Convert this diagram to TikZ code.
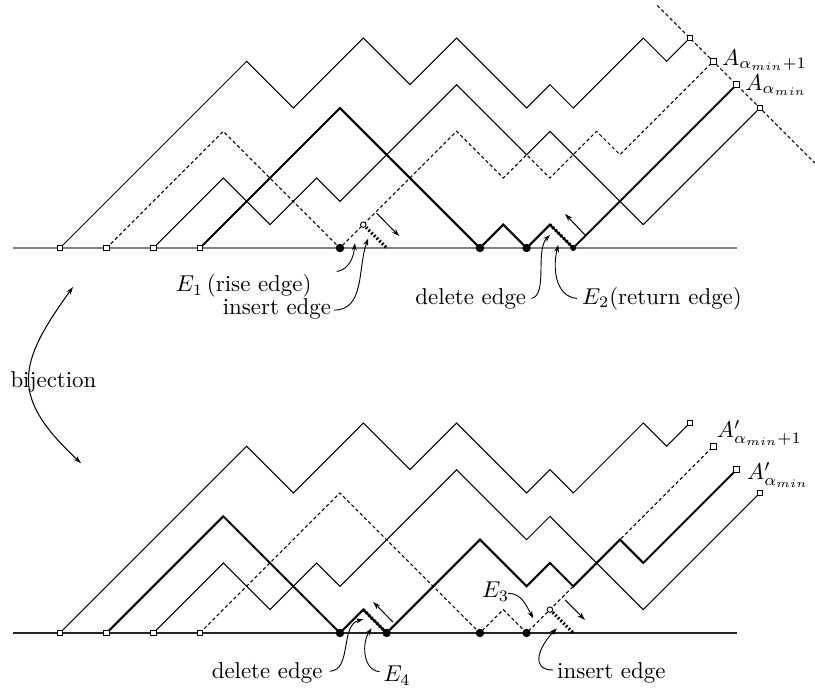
\documentclass[tikz,border=0pt]{standalone}
\usetikzlibrary{arrows.meta}
\begin{document}
\begin{tikzpicture}[x=0.358cm,y=0.358cm,
  thinpath/.style={line width=0.45pt, line join=miter},
  thickpath/.style={line width=0.9pt, line join=miter},
  dashpath/.style={line width=0.45pt, dash pattern=on 1.5pt off 1.1pt},
  beads/.style={line width=1.4pt, dash pattern=on 0.8pt off 0.85pt},
  topbase/.style={line width=0.9pt, black!50},
  botbase/.style={line width=0.7pt, black!85},
  sq/.style={draw, rectangle, fill=white, inner sep=0pt, minimum size=2.4pt, line width=0.4pt},
  bigdot/.style={circle, fill=black, inner sep=0pt, minimum size=3.7pt},
  smalldot/.style={circle, fill=black, inner sep=0pt, minimum size=2.6pt},
  opendot/.style={circle, draw, fill=white, inner sep=0pt, minimum size=2.4pt, line width=0.4pt},
  lead/.style={line width=0.4pt, -{Stealth[length=3.2pt,width=2.2pt]}},
  dirarrow/.style={line width=0.45pt, -{Stealth[length=3.4pt,width=2.2pt]}},
  lbl/.style={inner sep=0pt}
]
\useasboundingbox (-2.571,-18.902) rectangle (32.361,10.630);

% ================= TOP =================
\coordinate (tbl) at (-2,0); \coordinate (tbr) at (29,0);
\draw[topbase] (tbl) -- (tbr);
\coordinate (dgA) at (25.6,10.4); \coordinate (dgB) at (32.36,3.64);
\draw[dashpath] (dgA) -- (dgB);

\draw[thinpath] (0,0)--(8,8)--(10,6)--(13,9)--(15,7)--(17,9)--(20,6)--(21,7)--(22,6)--(25,9)--(26,8)--(27,9);
\draw[dashpath] (2,0)--(7,5)--(12,0)--(13,1)--(17,5)--(19,3)--(20,4)--(21,3)--(23,5)--(24,4)--(28,8);
\draw[thinpath] (4,0)--(7,3)--(9,1)--(11,3)--(12,2)--(17,7)--(20,4)--(21,5)--(25,1)--(30,6);
\draw[thickpath] (6,0)--(12,6)--(18,0)--(19,1)--(20,0)--(21,1)--(22,0)--(29,7);

\draw[beads] (21,1) -- (22,0);
\draw[beads] (13,1) -- (14,0);

\coordinate (ta1) at (13.57,1.49); \coordinate (ta2) at (14.54,0.51);
\draw[dirarrow] (ta1) -- (ta2);
\coordinate (tb1) at (22.5,0.56); \coordinate (tb2) at (21.65,1.46);
\draw[dirarrow] (tb1) -- (tb2);

\node[bigdot] (td1) at (12,0) {};
\node[bigdot] (td2) at (18,0) {};
\node[bigdot] (td3) at (20,0) {};
\node[smalldot] (td4) at (22,0) {};
\node[opendot] (tc1) at (13,1) {};

\node[sq] (ts1) at (0,0) {};
\node[sq] (ts2) at (2,0) {};
\node[sq] (ts3) at (4,0) {};
\node[sq] (ts4) at (6,0) {};
\node[sq] (te1) at (27,9) {};
\node[sq] (te2) at (28,8) {};
\node[sq] (te3) at (29,7) {};
\node[sq] (te4) at (30,6) {};

\node[lbl, anchor=base east] (e1) at (10.80,-1.87) {$E_1$\,(rise edge)};
\node[lbl, anchor=base east] (ins1) at (11.64,-2.87) {insert edge};
\node[lbl, anchor=base east] (del1) at (20.0,-2.4) {delete edge};
\node[lbl, anchor=base west] (e2) at (22.36,-2.4) {$E_2$(return edge)};
\node[lbl, anchor=base west] (a1) at (28.36,7.84) {$A_{\alpha_{min}+1}$};
\node[lbl, anchor=base west] (a0) at (29.36,6.77) {$A_{\alpha_{min}}$};

\coordinate (e1s) at (11.86,-1.01); \coordinate (e1t) at (12.64,0.21);
\draw[lead] (e1s) to[out=10,in=-95] (e1t);
\coordinate (ins1s) at (11.75,-2.66); \coordinate (ins1t) at (13.21,0.41);
\draw[lead] (ins1s) to[out=0,in=-110] (ins1t);
\coordinate (del1s) at (20.21,-2.16); \coordinate (del1t) at (21.0,0.56);
\draw[lead] (del1s) .. controls (20.92,-2.01) and (20.36,-0.09) .. (del1t);
\coordinate (e2s) at (22.15,-2.16); \coordinate (e2t) at (21.36,0.13);
\draw[lead] (e2s) to[out=175,in=-105] (e2t);

% ================= BIJECTION =================
\node[lbl, anchor=base west] (bij) at (-2.14,-5.96) {bijection};
\coordinate (bt) at (0.56,-1.67); \coordinate (bb) at (0.9,-9.22);
\draw[line width=0.45pt, {Stealth[length=3.4pt,width=2.2pt]}-{Stealth[length=3.4pt,width=2.2pt]}] (bt) to[out=234,in=137,looseness=1.4] (bb);

% ================= BOTTOM =================
\begin{scope}[shift={(0,-16.5)}]
\coordinate (bbl) at (-2,0); \coordinate (bbr) at (29,0);
\draw[botbase] (bbl) -- (bbr);

\draw[thinpath] (0,0)--(8,8)--(10,6)--(13,9)--(15,7)--(17,9)--(20,6)--(21,7)--(22,6)--(25,9)--(26,8)--(27,9);
\draw[thickpath] (2,0)--(7,5)--(12,0)--(13,1)--(14,0)--(18,4)--(20,2)--(21,3)--(22,2)--(24,4)--(25,3)--(29,7);
\draw[thinpath] (4,0)--(7,3)--(9,1)--(11,3)--(12,2)--(17,7)--(20,4)--(21,5)--(25,1)--(30,6);
\draw[dashpath] (6,0)--(12,6)--(18,0)--(19,1)--(20,0)--(21,1)--(28,8);

\draw[beads] (13,1) -- (14,0);
\draw[beads] (21,1) -- (22,0);

\coordinate (ba1) at (14.27,0.47); \coordinate (ba2) at (13.42,1.33);
\draw[dirarrow] (ba1) -- (ba2);
\coordinate (bc1) at (21.65,1.41); \coordinate (bc2) at (22.5,0.56);
\draw[dirarrow] (bc1) -- (bc2);

\node[bigdot] (bd1) at (12,0) {};
\node[bigdot] (bd2) at (14,0) {};
\node[bigdot] (bd3) at (18,0) {};
\node[bigdot] (bd4) at (20,0) {};
\node[opendot] (bcirc) at (21,1) {};

\node[sq] (bs1) at (0,0) {};
\node[sq] (bs2) at (2,0) {};
\node[sq] (bs3) at (4,0) {};
\node[sq] (bs4) at (6,0) {};
\node[sq] (be1) at (27,9) {};
\node[sq] (be2) at (28,8) {};
\node[sq] (be3) at (29,7) {};
\node[sq] (be4) at (30,6) {};

\node[lbl, anchor=base east] (del2) at (11.27,-1.93) {delete edge};
\node[lbl, anchor=base west] (e4) at (13.85,-2.1) {$E_4$};
\node[lbl, anchor=base west] (e3) at (18.07,1.5) {$E_3$};
\node[lbl, anchor=base west] (ins2) at (21.29,-1.93) {insert edge};
\node[lbl, anchor=base west] (a1p) at (28.14,8.36) {$A'_{\alpha_{min}+1}$};
\node[lbl, anchor=base west] (a0p) at (29.43,6.56) {$A'_{\alpha_{min}}$};

\coordinate (del2s) at (11.57,-1.64); \coordinate (del2t) at (13.0,0.59);
\draw[lead] (del2s) .. controls (12.52,-1.59) and (12.0,0.34) .. (del2t);
\coordinate (e4s) at (13.7,-1.66); \coordinate (e4t) at (13.36,0.2);
\draw[lead] (e4s) to[out=175,in=-125] (e4t);
\coordinate (e3s) at (19.21,1.7); \coordinate (e3t) at (20.29,0.63);
\draw[lead] (e3s) to[out=0,in=120] (e3t);
\coordinate (ins2s) at (21.15,-1.59); \coordinate (ins2t) at (21.3,0.2);
\draw[lead] (ins2s) to[out=180,in=-135,looseness=1.5] (ins2t);
\end{scope}
\end{tikzpicture}
\end{document}
